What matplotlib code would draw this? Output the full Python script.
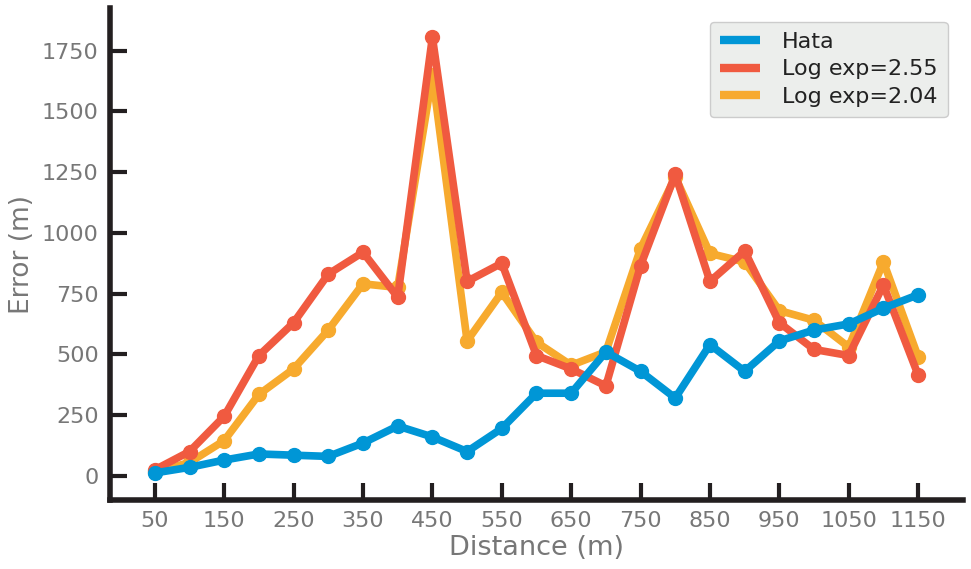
import numpy as np
import matplotlib
matplotlib.use("Agg")
import matplotlib.pyplot as plt

# Distance (m) and error (m) per model
distance = np.arange(50, 1151, 50)
hata = [12, 35, 65, 90, 85, 80, 135, 205, 160, 100, 195, 340, 340,
        510, 430, 320, 540, 430, 555, 600, 625, 690, 745]
log_255 = [25, 100, 245, 495, 630, 830, 920, 735, 1805, 800, 875, 495, 440,
           370, 865, 1240, 800, 925, 630, 520, 495, 785, 415]
log_204 = [15, 55, 145, 335, 440, 600, 790, 775, 1650, 555, 755, 550, 455,
           510, 935, 1230, 915, 880, 680, 640, 530, 880, 490]

series = [("Hata", hata, "#0096d6"),
          ("Log exp=2.55", log_255, "#f05a40"),
          ("Log exp=2.04", log_204, "#f7aa2e")]

fig = plt.figure(figsize=(9.71, 5.69), dpi=100)
ax = fig.add_axes([0.113, 0.121, 0.879, 0.865])

# draw orange first so red sits on top, blue on top of all
for name, vals, col in [series[2], series[1], series[0]]:
    ax.plot(distance, vals, color=col, lw=5.5, marker="o", ms=10,
            solid_capstyle="round", label=name)

handles, labels = ax.get_legend_handles_labels()
order = [2, 1, 0]
leg = ax.legend([handles[i] for i in order], [labels[i] for i in order],
                loc="upper right", fontsize=16, frameon=True, fancybox=True,
                handlelength=1.8, handletextpad=1.0, borderpad=0.45,
                labelspacing=0.35, bbox_to_anchor=(0.995, 0.995))
for h in leg.get_lines():
    h.set_marker("")
    h.set_linewidth(6)
    h.set_solid_capstyle("butt")
leg.get_frame().set_facecolor("#eceeec")
leg.get_frame().set_edgecolor("#cccccc")
leg.get_frame().set_alpha(1)
for t in leg.get_texts():
    t.set_color("#222222")

ax.set_xlim(-15, 1215)
ax.set_ylim(-100, 1925)
ax.set_xticks(np.arange(50, 1151, 100))
ax.set_yticks(np.arange(0, 1751, 250))

for s in ["top", "right"]:
    ax.spines[s].set_visible(False)
for s in ["left", "bottom"]:
    ax.spines[s].set_linewidth(4)
    ax.spines[s].set_color("#231f20")

ax.tick_params(direction="in", length=12, width=3, color="#231f20",
               labelsize=16, labelcolor="#777777", pad=8)
ax.set_xlabel("Distance (m)", fontsize=19.5, color="#777777", labelpad=3)
ax.set_ylabel("Error (m)", fontsize=19, color="#777777", labelpad=5)

fig.savefig("out.png", dpi=100)
